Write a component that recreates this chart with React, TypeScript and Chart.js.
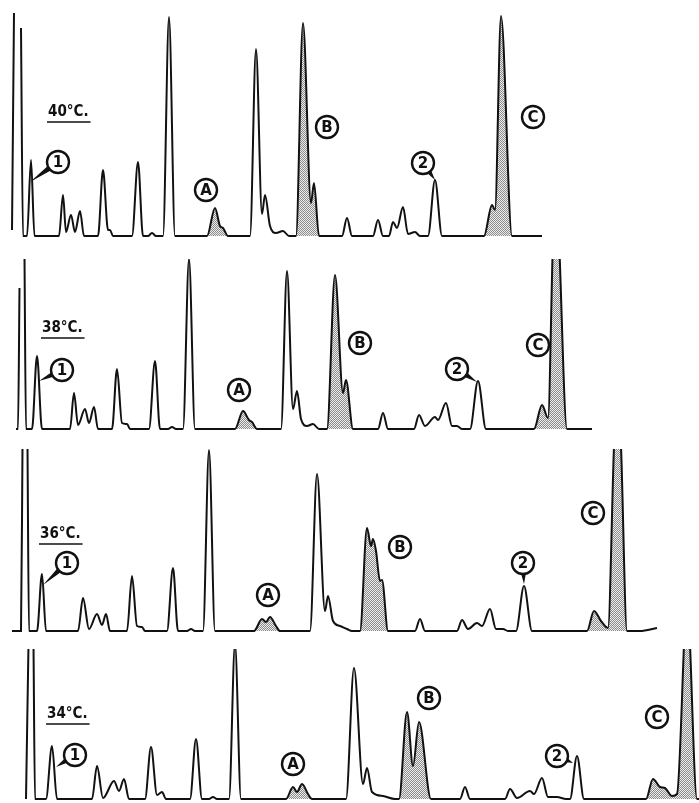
import React, { useEffect, useRef } from "react";
import { Chart, registerables } from "chart.js";

Chart.register(...registerables);

type Pt = [number, number | null];
type Mark = { t: string; x: number; y: number; tipX?: number; tipY?: number };

// ---- Traces: [retention (chart units), detector response] ----
const trace40: Pt[] = [
  [12, 6], [14, 223], [17, null], [21, 208], [23, 0], [27, 0], [31, 76], [34.5, 0],
  [59, 0], [63, 41], [66, 4], [71, 21], [75, 4], [80, 25], [84, 0],
  [98, 0], [103, 66], [108, 6], [110, 6], [113, 0],
  [132, 0], [138, 74], [143, 0], [148, 0], [152, 3], [156, 0],
  [163, 0], [169, 219], [175, 0],
  [207, 0], [215, 28], [220, 10], [223, 8], [228, 0],
  [250, 0], [256, 187], [262, 22], [265, 41], [270, 10], [276, 3], [283, 5], [289, 0],
  [296, 0], [303, 213], [311, 33], [314, 53], [319, 0],
  [342, 0], [347, 18], [352, 0],
  [373, 0], [378, 16], [383, 0],
  [389, 0], [393, 14], [397, 8], [403, 29], [408, 2], [415, 4], [420, 0],
  [428, 0], [435, 56], [442, 0],
  [484, 0], [492, 31], [495, 26], [501, 220], [512, 0], [542, 0],
];
const trace38: Pt[] = [
  [16, 0], [18, 0], [19.5, 141], [22, null], [24.5, 172], [26, 0], [32, 0], [37, 73], [42, 0],
  [70, 0], [74, 36], [78, 4], [85, 20], [89, 6], [94, 22], [98, 0],
  [112, 0], [117, 60], [122, 6], [127, 5], [130, 0],
  [149, 0], [155, 68], [160, 0], [168, 0], [172, 2], [176, 0],
  [183, 0], [189, 170], [195, 0],
  [235, 0], [243, 18], [249, 9], [252, 7], [257, 0],
  [281, 0], [287, 158], [293, 20], [297, 38], [301, 10], [307, 3], [313, 5], [319, 0],
  [327, 0], [335, 154], [343, 36], [346, 49], [353, 0],
  [378, 0], [383, 16], [388, 0],
  [414, 0], [419, 14], [425, 3], [435, 12], [438, 9], [446, 26], [452, 3], [457, 3], [462, 0],
  [470, 0], [478, 48], [486, 0],
  [534, 0], [542, 24], [548, 11], [553, 190], [556, 260], [559, 190], [567, 0], [592, 0],
];
const trace36: Pt[] = [
  [12, 0], [21, 0], [22.5, 185], [25, null], [27.5, 185], [29, 0], [37, 0], [42, 57], [46, 0],
  [78, 0], [83, 33], [89, 2], [97, 17], [102, 6], [106, 17], [110, 0],
  [127, 0], [132, 55], [137, 5], [142, 4], [145, 0],
  [167, 0], [173, 63], [178, 0], [187, 0], [191, 2], [195, 0],
  [203, 0], [209, 181], [215, 0],
  [254, 0], [262, 12], [266, 9], [270, 14], [276, 5], [280, 0],
  [310, 0], [317, 157], [325, 20], [328, 35], [333, 10], [340, 5], [347, 2], [352, 0],
  [360, 0], [367, 103], [371, 85], [373, 92], [376, 80], [380, 50], [382, 51], [388, 0],
  [415, 0], [420, 12], [425, 0],
  [457, 0], [462, 11], [468, 2], [477, 8], [482, 5], [490, 22], [496, 2], [503, 2], [508, 0],
  [516, 0], [524, 45], [532, 0],
  [587, 0], [594, 20], [601, 10], [608, 3], [614, 185], [617.5, 260], [621, 185], [627, 0], [640, 0], [657, 3],
];
const trace34: Pt[] = [
  [26, 0], [28.5, 155], [31, null], [33.5, 155], [35, 0], [46, 0], [52, 53], [57, 0],
  [92, 0], [97, 33], [103, 1], [114, 18], [119, 8], [124, 20], [129, 0],
  [145, 0], [151, 52], [157, 4], [162, 7], [166, 0],
  [190, 0], [196, 60], [202, 0], [209, 0], [213, 2], [217, 0],
  [229, 0], [235, 155], [241, 0],
  [286, 0], [293, 12], [297, 7], [302, 15], [308, 5], [312, 0],
  [346, 0], [354, 131], [363, 15], [367, 31], [372, 7], [383, 3], [395, 0],
  [399, 0], [407, 87], [413, 33], [419, 77], [431, 0],
  [460, 0], [465, 12], [470, 0],
  [505, 0], [510, 10], [517, 1], [530, 8], [534, 5], [542, 21], [548, 2], [557, 2], [566, 0],
  [570, 0], [577, 43], [584, 0],
  [646, 0], [653, 20], [660, 12], [665, 11], [672, 3], [677, 5], [684, 155], [687, 240], [690, 155], [697, 0], [699, 0],
];

// ---- Shaded peaks (A, B, C) as retention ranges ----
const shade40: [number, number][] = [[207, 228], [296, 319], [484, 512]];
const shade38: [number, number][] = [[235, 257], [327, 353], [534, 567]];
const shade36: [number, number][] = [[254, 280], [360, 388], [587, 627]];
const shade34: [number, number][] = [[286, 312], [399, 431], [646, 697]];

// ---- Temperature labels ----
const temps = ["40°C.", "38°C.", "36°C.", "34°C."];

// ---- Annotation anchors (data units) ----
const marks40: Mark[] = [
  { t: "1", x: 58, y: 74, tipX: 30, tipY: 54 },
  { t: "A", x: 206, y: 46 },
  { t: "B", x: 327, y: 109 },
  { t: "2", x: 423, y: 73, tipX: 435, tipY: 56 },
  { t: "C", x: 533, y: 119 },
];
const marks38: Mark[] = [
  { t: "1", x: 62, y: 59, tipX: 39, tipY: 48 },
  { t: "A", x: 239, y: 39 },
  { t: "B", x: 360, y: 86 },
  { t: "2", x: 457, y: 60, tipX: 477, tipY: 47 },
  { t: "C", x: 538, y: 84 },
];
const marks36: Mark[] = [
  { t: "1", x: 67, y: 68, tipX: 43, tipY: 46 },
  { t: "A", x: 268, y: 36 },
  { t: "B", x: 400, y: 84 },
  { t: "2", x: 523, y: 68, tipX: 524, tipY: 47 },
  { t: "C", x: 593, y: 118 },
];
const marks34: Mark[] = [
  { t: "1", x: 75, y: 44, tipX: 56, tipY: 32 },
  { t: "A", x: 293, y: 35 },
  { t: "B", x: 429, y: 101 },
  { t: "2", x: 557, y: 43, tipX: 573, tipY: 36 },
  { t: "C", x: 657, y: 82 },
];
const tempAt: [number, number][] = [[48, 120], [42, 97], [40, 93], [47, 81]];

// ---- Layout of the four stacked panels (page px) ----
const layout = [
  { top: 0, height: 242, base: 236 },
  { top: 259, height: 177, base: 429 },
  { top: 449, height: 188, base: 631 },
  { top: 649, height: 154, base: 799 },
];

const panels = [
  { trace: trace40, shade: shade40, marks: marks40 },
  { trace: trace38, shade: shade38, marks: marks38 },
  { trace: trace36, shade: shade36, marks: marks36 },
  { trace: trace34, shade: shade34, marks: marks34 },
];

function makePattern(ctx: CanvasRenderingContext2D): CanvasPattern | string {
  const c = document.createElement("canvas");
  c.width = 2;
  c.height = 2;
  const g = c.getContext("2d");
  if (!g) return "#bbb";
  g.fillStyle = "#ececec";
  g.fillRect(0, 0, 2, 2);
  g.fillStyle = "#8c8c8c";
  g.fillRect(0, 0, 1, 1);
  g.fillRect(1, 1, 1, 1);
  return ctx.createPattern(c, "repeat") || "#bbb";
}

function Panel({ idx }: { idx: number }) {
  const ref = useRef<HTMLCanvasElement>(null);
  const L = layout[idx];
  useEffect(() => {
    const canvas = ref.current;
    if (!canvas) return;
    const ctx2 = canvas.getContext("2d")!;
    const pattern = makePattern(ctx2);
    const P = panels[idx];
    const inShade = (a: number, b: number) => P.shade.some(([s, e]) => a >= s && b <= e);
    const annot = {
      id: "annot" + idx,
      afterDatasetsDraw(chart: any) {
        const { ctx } = chart;
        const xs = chart.scales.x;
        const ys = chart.scales.y;
        ctx.save();
        ctx.fillStyle = "#111";
        ctx.strokeStyle = "#111";
        // temperature label
        ctx.font = 'bold 15px "DejaVu Sans Condensed", "DejaVu Sans", sans-serif';
        ctx.textAlign = "left";
        ctx.textBaseline = "alphabetic";
        const tx = xs.getPixelForValue(tempAt[idx][0]);
        const ty = ys.getPixelForValue(tempAt[idx][1]);
        ctx.fillText(temps[idx], tx, ty);
        const w = ctx.measureText(temps[idx]).width;
        ctx.lineWidth = 1.6;
        ctx.beginPath();
        ctx.moveTo(tx - 1, ty + 6);
        ctx.lineTo(tx + w + 2, ty + 6);
        ctx.stroke();
        // circled marks
        const r = 11;
        for (const m of P.marks) {
          const cx = xs.getPixelForValue(m.x);
          const cy = ys.getPixelForValue(m.y);
          if (m.tipX !== undefined && m.tipY !== undefined) {
            const px = xs.getPixelForValue(m.tipX);
            const py = ys.getPixelForValue(m.tipY);
            const dx = px - cx, dy = py - cy;
            const d = Math.hypot(dx, dy) || 1;
            const ux = dx / d, uy = dy / d;
            const bx = cx + ux * r * 0.8, by = cy + uy * r * 0.8;
            const nx = -uy * 2.8, ny = ux * 2.8;
            ctx.beginPath();
            ctx.moveTo(bx + nx, by + ny);
            ctx.lineTo(px, py);
            ctx.lineTo(bx - nx, by - ny);
            ctx.closePath();
            ctx.fill();
          }
          ctx.beginPath();
          ctx.arc(cx, cy, r, 0, Math.PI * 2);
          ctx.fillStyle = "#fff";
          ctx.fill();
          ctx.lineWidth = 2.4;
          ctx.stroke();
          ctx.fillStyle = "#111";
          ctx.font = 'bold 15px "DejaVu Sans", sans-serif';
          ctx.textAlign = "center";
          ctx.textBaseline = "middle";
          ctx.fillText(m.t, cx, cy + 1);
        }
        ctx.restore();
      },
    };
    const chart = new Chart(canvas, {
      type: "line",
      data: {
        datasets: [
          {
            data: P.trace.map(([x, y]) => ({ x, y })) as any,
            borderColor: "#111",
            borderWidth: 2,
            pointRadius: 0,
            cubicInterpolationMode: "monotone",
            spanGaps: false,
            fill: "origin",
            backgroundColor: "rgba(0,0,0,0)",
            segment: {
              backgroundColor: (c: any) =>
                inShade(c.p0.parsed.x, c.p1.parsed.x) ? pattern : "rgba(0,0,0,0)",
            },
          } as any,
        ],
      },
      options: {
        animation: false,
        responsive: true,
        maintainAspectRatio: false,
        events: [],
        layout: { padding: 0 },
        plugins: { legend: { display: false }, tooltip: { enabled: false } },
        scales: {
          x: { type: "linear", min: 0, max: 699, display: false },
          y: { type: "linear", min: -(L.top + L.height - L.base), max: L.base - L.top, display: false },
        },
      },
      plugins: [annot],
    });
    return () => chart.destroy();
  }, [idx]);
  return (
    <div style={{ position: "absolute", left: 0, top: L.top, width: 699, height: L.height }}>
      <canvas ref={ref} />
    </div>
  );
}

export default function App() {
  return (
    <div style={{ position: "fixed", left: 0, top: 0, width: 699, height: 803, background: "#fff", overflow: "hidden" }}>
      {[0, 1, 2, 3].map((i) => (
        <Panel key={i} idx={i} />
      ))}
    </div>
  );
}
